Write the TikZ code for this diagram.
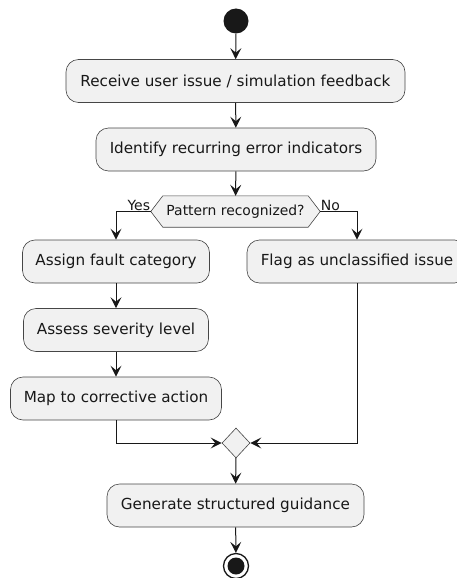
\documentclass[tikz,border=0pt]{standalone}
\usepackage{fontspec}
\setmainfont{DejaVu Sans}
\usetikzlibrary{arrows.meta,shapes.geometric,backgrounds}
\definecolor{boxfill}{HTML}{F1F1F1}
\definecolor{ink}{HTML}{181818}
\tikzset{
  x=1pt,y=-1pt,
  act/.style={draw=ink!80,line width=0.6pt,fill=boxfill,rounded corners=12.5pt,minimum height=43pt,inner xsep=0pt,font=\fontsize{15.2}{17}\selectfont,text=ink},
  flow/.style={draw=ink,line width=1pt,-{Stealth[length=11pt,width=11pt,inset=4.5pt]}},
  lbl/.style={font=\fontsize{14}{16}\selectfont,text=ink,inner sep=0.5pt},
}
\begin{document}
\begin{tikzpicture}
\useasboundingbox (0,0) rectangle (457,578);
\node[circle,fill=ink,minimum size=25pt,inner sep=0pt] (start) at (236,21) {};
\node[act,minimum width=339pt] (b1) at (235.5,81) {Receive user issue / simulation feedback};
\node[act,minimum width=280pt] (b2) at (236,149.5) {Identify recurring error indicators};
\node[minimum width=169pt,minimum height=31pt,inner sep=0pt,font=\fontsize{13.9}{16}\selectfont,text=ink] (dec) at (235.5,211.5) {Pattern recognized?};
\begin{scope}[on background layer]
\draw[draw=ink!80,line width=0.6pt,fill=boxfill] (dec.west) -- ([xshift=12pt]dec.north west) -- ([xshift=-12pt]dec.north east) -- (dec.east) -- ([xshift=-12pt]dec.south east) -- ([xshift=12pt]dec.south west) -- cycle;
\end{scope}
\node[act,minimum width=187pt] (assign) at (116,261.5) {Assign fault category};
\node[act,minimum width=220pt] (flag) at (357,261.5) {Flag as unclassified issue};
\node[act,minimum width=185pt] (assess) at (116,330) {Assess severity level};
\node[act,minimum width=211pt] (map) at (116,398.5) {Map to corrective action};
\node[diamond,draw=ink!80,line width=0.6pt,fill=boxfill,minimum width=28pt,minimum height=30pt,inner sep=0pt] (merge) at (236,443) {};
\node[act,minimum width=257pt] (gen) at (235.5,505.5) {Generate structured guidance};
\node[circle,draw=ink,line width=1.3pt,minimum size=25pt,inner sep=0pt] (stop) at (236,566) {};
\node[circle,fill=ink,minimum size=17pt,inner sep=0pt] (stopdot) at (stop.center) {};
\draw[flow] (start) -- (b1);
\draw[flow] (b1) -- (b2);
\draw[flow] (b2) -- (dec);
\draw[flow] (dec.west) -| (assign.north);
\draw[flow] (dec.east) -| (flag.north);
\node[lbl,anchor=south east] (yes) at (dec.west) {Yes};
\node[lbl,anchor=south west] (no) at (dec.east) {No};
\draw[flow] (assign) -- (assess);
\draw[flow] (assess) -- (map);
\draw[flow] (map.south) |- (merge.west);
\draw[flow] (flag.south) |- (merge.east);
\draw[flow] (merge) -- (gen);
\draw[flow] (gen) -- (stop);
\end{tikzpicture}
\end{document}
